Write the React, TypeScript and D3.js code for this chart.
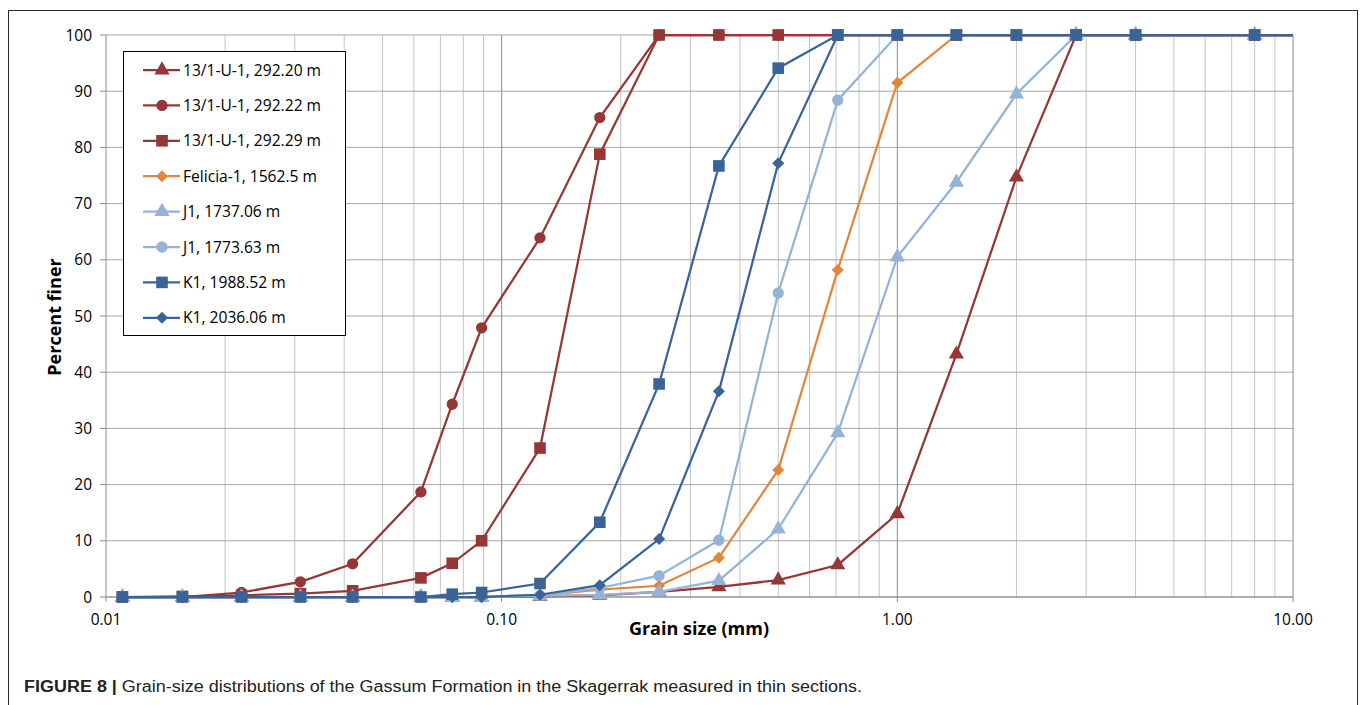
import React from 'react';
import * as d3 from 'd3';

// grain sizes (mm) of the sieve / point-count classes
const sizes = [0.011, 0.0156, 0.022, 0.031, 0.042, 0.0625, 0.075, 0.089, 0.125, 0.177, 0.25, 0.354, 0.5, 0.707, 1.0, 1.41, 2.0, 2.83, 4.0, 8.0, 16.0];

const s292_20 = [0, 0, 0, 0, 0, 0, 0, 0, 0.1, 0.3, 0.9, 1.8, 3.0, 5.7, 14.8, 43.2, 74.7, 100, 100, 100, 100];
const s292_22 = [0, 0, 0.8, 2.7, 5.9, 18.7, 34.3, 47.9, 63.9, 85.3, 100, 100, 100, 100, 100, 100, 100, 100, 100, 100, 100];
const s292_29 = [0, 0.1, 0.3, 0.6, 1.1, 3.4, 6.0, 10.0, 26.5, 78.8, 100, 100, 100, 100, 100, 100, 100, 100, 100, 100, 100];
const felicia = [0, 0, 0, 0, 0, 0, 0, 0, 0.3, 1.3, 2.0, 7.0, 22.6, 58.2, 91.5, 100, 100, 100, 100, 100, 100];
const j1_1737 = [0, 0, 0, 0, 0, 0, 0, 0, 0.2, 0.4, 0.9, 2.9, 12.1, 29.2, 60.5, 73.8, 89.5, 100, 100, 100, 100];
const j1_1773 = [0, 0, 0, 0, 0, 0, 0, 0, 0.3, 1.6, 3.8, 10.1, 54.1, 88.4, 100, 100, 100, 100, 100, 100, 100];
const k1_1988 = [0, 0, 0, 0, 0, 0, 0.5, 0.8, 2.4, 13.3, 37.9, 76.7, 94.1, 100, 100, 100, 100, 100, 100, 100, 100];
const k1_2036 = [0, 0, 0, 0, 0, 0, 0, 0, 0.4, 2.1, 10.3, 36.6, 77.2, 100, 100, 100, 100, 100, 100, 100, 100];

const seriesNames = ['13/1-U-1, 292.20 m', '13/1-U-1, 292.22 m', '13/1-U-1, 292.29 m', 'Felicia-1, 1562.5 m', 'J1, 1737.06 m', 'J1, 1773.63 m', 'K1, 1988.52 m', 'K1, 2036.06 m'];
const seriesValues = [s292_20, s292_22, s292_29, felicia, j1_1737, j1_1773, k1_1988, k1_2036];

const xTicks = [0.01, 0.1, 1, 10];
const yTicks = [0, 10, 20, 30, 40, 50, 60, 70, 80, 90, 100];

const RED = '#953735';
const ORANGE = '#E2873A';
const LIGHT = '#95B3D7';
const BLUE = '#3A6498';
const colors = [RED, RED, RED, ORANGE, LIGHT, LIGHT, BLUE, BLUE];
const markers = ['triangle', 'circle', 'square', 'diamond', 'triangle', 'circle', 'square', 'diamond'];

// marker path, centred on 0,0
const markerPath = (m: string) => {
  if (m === 'square') return d3.symbol().type(d3.symbolSquare).size(135)() || '';
  if (m === 'circle') return d3.symbol().type(d3.symbolCircle).size(100)() || '';
  if (m === 'triangle') return d3.symbol().type(d3.symbolTriangle).size(100)() || '';
  return 'M0,-6L6,0L0,6L-6,0Z';
};

const FONT = '"Open Sans", sans-serif';

export default function App() {
  const left = 106, right = 1293, top = 35, bottom = 597;
  const x = d3.scaleLog().domain([0.01, 10]).range([left, right]);
  const y = d3.scaleLinear().domain([0, 100]).range([bottom, top]);

  const minor: number[] = [];
  for (let e = -2; e < 1; e++) for (let m = 2; m <= 9; m++) minor.push(m * Math.pow(10, e));

  const line = d3.line<number>().x((_, i) => x(sizes[i])).y(d => y(d));

  return (
    <svg width={1360} height={705} style={{ position: 'absolute', left: 0, top: 0, background: '#fff' }}>
      <defs>
        <clipPath id="plot">
          <rect x={left} y={top - 10} width={right - left} height={bottom - top + 20} />
        </clipPath>
      </defs>
      <rect x={8.5} y={10.5} width={1349} height={720} fill="none" stroke="#2b2b2b" strokeWidth={1} />

      {/* grid */}
      {minor.map(v => (
        <line key={'mv' + v} x1={x(v)} x2={x(v)} y1={top} y2={bottom} stroke="#c4c4c4" strokeWidth={1} />
      ))}
      {yTicks.map(v => (
        <line key={'h' + v} x1={left} x2={right} y1={y(v)} y2={y(v)} stroke="#a6a6a6" strokeWidth={1} />
      ))}
      {xTicks.map(v => (
        <line key={'Mv' + v} x1={x(v)} x2={x(v)} y1={top} y2={bottom + 5} stroke="#8c8c8c" strokeWidth={1} />
      ))}
      {yTicks.map(v => (
        <line key={'yt' + v} x1={left - 6} x2={left} y1={y(v)} y2={y(v)} stroke="#8c8c8c" strokeWidth={1} />
      ))}
      <line x1={left} x2={right} y1={bottom} y2={bottom} stroke="#8c8c8c" strokeWidth={1} />

      {/* tick labels */}
      {yTicks.map(v => (
        <text key={'yl' + v} x={92} y={y(v)} dy="0.36em" textAnchor="end" fontFamily={FONT} fontSize={15.5} fill="#000">{v}</text>
      ))}
      {xTicks.map(v => (
        <text key={'xl' + v} x={x(v)} y={625} textAnchor="middle" fontFamily={FONT} fontSize={15.5} fill="#000">{d3.format('.2f')(v)}</text>
      ))}
      <text x={699} y={635} textAnchor="middle" fontFamily={FONT} fontWeight="bold" fontSize={18}>Grain size (mm)</text>
      <text transform="translate(61,317) rotate(-90)" textAnchor="middle" fontFamily={FONT} fontWeight="bold" fontSize={18}>Percent finer</text>

      {/* series */}
      <g clipPath="url(#plot)">
        {seriesValues.map((vals, si) => (
          <g key={'s' + si}>
            <path d={line(vals) || ''} fill="none" stroke={colors[si]} strokeWidth={2.25} />
            {vals.map((v, i) => (
              <path key={i} transform={`translate(${x(sizes[i])},${y(v)})`} d={markerPath(markers[si])} fill={colors[si]} />
            ))}
          </g>
        ))}
      </g>

      {/* legend */}
      <rect x={123.5} y={51.5} width={222} height={284} fill="#fff" stroke="#000" strokeWidth={1} />
      {seriesNames.map((name, i) => {
        const ly = 70 + i * 35.4;
        return (
          <g key={'lg' + i}>
            <line x1={143} x2={180} y1={ly} y2={ly} stroke={colors[i]} strokeWidth={2.25} />
            <path transform={`translate(162,${ly})`} d={markerPath(markers[i])} fill={colors[i]} />
            <text x={183} y={ly} dy="0.36em" fontFamily={FONT} fontSize={15.6}>{name}</text>
          </g>
        );
      })}

      {/* caption */}
      <text x={24} y={692} textLength={838} lengthAdjust="spacingAndGlyphs"
        fontFamily='"Liberation Sans Narrow", "Liberation Sans", sans-serif' fontSize={16} fill="#222">
        <tspan fontWeight="bold">FIGURE 8 | </tspan>
        <tspan>Grain-size distributions of the Gassum Formation in the Skagerrak measured in thin sections.</tspan>
      </text>
    </svg>
  );
}
